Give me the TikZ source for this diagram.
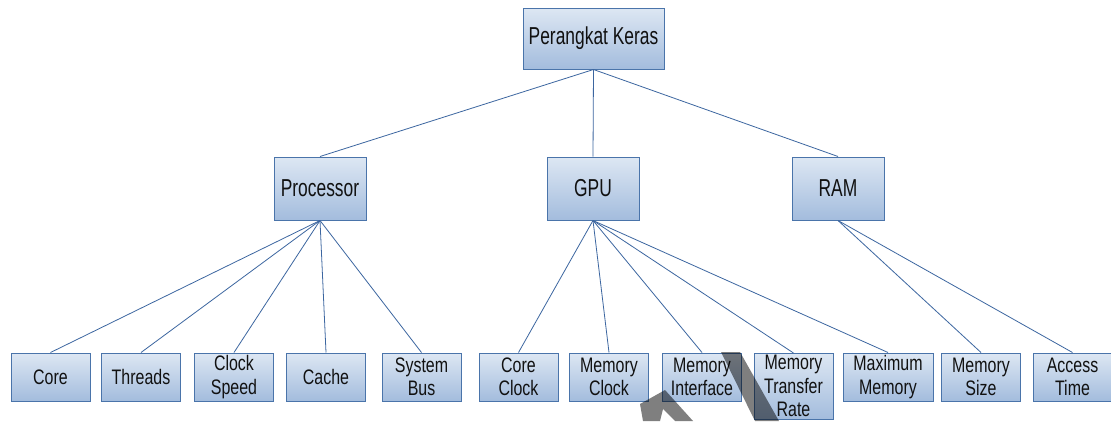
\documentclass[tikz,border=0pt]{standalone}
\usepackage{fontspec}
\setmainfont{Liberation Sans}
\newfontfamily\headfont[FakeStretch=0.71]{Liberation Sans}
\newfontfamily\leaffont[FakeStretch=0.76]{Liberation Sans}
\definecolor{boxedge}{HTML}{4A74AA}
\definecolor{linkblue}{HTML}{3C66A0}
\definecolor{filltop}{HTML}{DDE7F3}
\definecolor{fillbot}{HTML}{A3BCDD}
\definecolor{ink}{HTML}{111111}
\tikzset{
  box/.style={draw=boxedge, line width=1pt, top color=filltop, bottom color=fillbot,
    inner sep=0pt, text=ink, align=center},
  headbox/.style={box, minimum width=92pt, minimum height=63pt,
    font=\headfont\fontsize{24.5}{26}\selectfont},
  rootbox/.style={headbox, minimum width=141pt, minimum height=61pt},
  leafbox/.style={box, minimum width=79pt, minimum height=48pt,
    font=\leaffont\fontsize{21}{23.5}\selectfont},
  link/.style={draw=linkblue, line width=0.8pt},
  smudge/.style={fill=black, opacity=0.5}
}
\begin{document}
\begin{tikzpicture}[x=1pt,y=-1pt]
\clip (0,0) rectangle (1111,421);
\fill[white] (0,0) rectangle (1111,421);

% root and second level
\node[rootbox] (root) at (593.5,38.5) {Perangkat Keras};
\node[headbox] (cpu) at (320,188.5) {Processor};
\node[headbox] (gpu) at (593,188.5) {GPU};
\node[headbox] (ram) at (838,188.5) {RAM};

% leaves
\node[leafbox] (core)    at (50.5,377)  {Core};
\node[leafbox] (threads) at (141,377)   {Threads};
\node[leafbox] (clock)   at (234,377)   {Clock\\Speed};
\node[leafbox] (cache)   at (326,377)   {Cache};
\node[leafbox] (bus)     at (421.5,377) {System\\Bus};
\node[leafbox] (cclock)  at (518.5,377) {Core\\Clock};
\node[leafbox] (mclock)  at (609,377)   {Memory\\Clock};
\node[leafbox] (mintf)   at (702,377)   {Memory\\Interface};
\node[leafbox, anchor=north, minimum height=0pt, inner ysep=2pt]
                 (mrate)   at (793.5,353) {Memory\\Transfer\\Rate};
\node[leafbox, minimum width=90pt] (maxmem) at (888,377) {Maximum\\Memory};
\node[leafbox] (msize)   at (981,377)   {Memory\\Size};
\node[leafbox] (access)  at (1072.5,377) {Access\\Time};

% connectors
\foreach \c in {cpu,gpu,ram} \draw[link] (root.south) -- (\c.north);
\foreach \c in {core,threads,clock,cache,bus} \draw[link] (cpu.south) -- (\c.north);
\foreach \c in {cclock,mclock,mintf,mrate,maxmem} \draw[link] (gpu.south) -- (\c.north);
\foreach \c in {msize,access} \draw[link] (ram.south) -- (\c.north);

% pen strokes across the lower row
\fill[smudge] (643,421) -- (640,404) -- (665,390) -- (693,421) -- (675,421)
  -- (663,409) -- (660,421) -- cycle;
\fill[smudge] (721,352) -- (740,352) -- (779,421) -- (755,421) -- cycle;
\end{tikzpicture}
\end{document}
